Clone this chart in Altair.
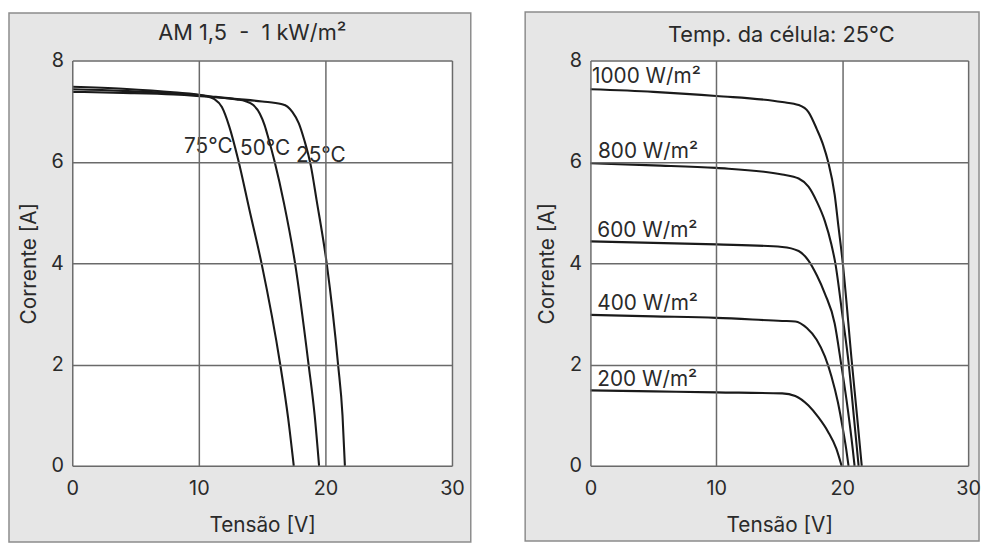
import altair as alt
import pandas as pd

FONT = "Inter"
INK = "#1a1a1a"
TXT = "#2a2a2a"
GRID = "#6a6a6a"

# ---------------- Left panel: temperature curves (AM 1,5 - 1 kW/m2) ----------------
temp_names = ["25°C", "50°C", "75°C"]
t25_v = [0, 4, 8, 12, 15, 16.5, 17.0, 17.4, 17.9, 18.33, 18.85, 19.3, 20.1, 21.0, 21.35, 21.54]
t25_i = [7.38, 7.36, 7.33, 7.26, 7.19, 7.14, 7.09, 6.98, 6.76, 6.43, 5.92, 5.25, 4.0, 2.0, 1.0, 0]
t50_v = [0, 4, 8, 11, 13, 13.65, 14.3, 14.82, 15.2, 15.47, 15.99, 16.72, 17.6, 18.67, 19.15, 19.5]
t50_i = [7.43, 7.40, 7.35, 7.29, 7.23, 7.20, 7.12, 6.95, 6.72, 6.49, 6.0, 5.19, 4.0, 2.0, 1.0, 0]
t75_v = [0, 4, 8, 10.5, 11.2, 11.82, 12.4, 13.1, 14.0, 14.95, 16.43, 17.05, 17.5]
t75_i = [7.48, 7.44, 7.37, 7.30, 7.24, 7.08, 6.70, 6.05, 5.05, 4.0, 2.0, 0.95, 0]

temp_label_text = ["75°C", "50°C", "25°C"]
temp_label_v = [8.83, 13.26, 17.68]
temp_label_i = [6.18, 6.13, 6.0]

# ---------------- Right panel: irradiance curves (25 °C) ----------------
irr_names = ["1000", "800", "600", "400", "200"]
g1000_v = [0, 5, 10, 15.23, 16.54, 17.32, 17.97, 18.49, 18.88, 19.4, 19.71, 20.0, 20.78, 21.17, 21.55]
g1000_i = [7.43, 7.38, 7.30, 7.18, 7.12, 6.98, 6.65, 6.33, 6.0, 5.35, 4.70, 4.1, 2.0, 1.0, 0]
g800_v = [0, 5, 10, 15.23, 16.54, 17.32, 17.97, 18.62, 19.14, 19.45, 20.0, 20.52, 20.95, 21.3]
g800_i = [5.97, 5.93, 5.88, 5.75, 5.67, 5.51, 5.22, 4.83, 4.37, 4.0, 3.0, 2.0, 0.9, 0]
g600_v = [0, 5, 10, 15.23, 16.54, 17.32, 18.0, 18.62, 19.4, 19.92, 20.44, 20.83, 20.98]
g600_i = [4.43, 4.40, 4.37, 4.32, 4.24, 4.05, 3.75, 3.40, 2.81, 2.0, 1.12, 0.34, 0]
g400_v = [0, 5, 10, 15.23, 16.27, 17.19, 17.97, 18.62, 19.14, 19.66, 20.05, 20.31, 20.5]
g400_i = [2.98, 2.95, 2.92, 2.86, 2.85, 2.72, 2.49, 2.16, 1.77, 1.25, 0.73, 0.34, 0]
g200_v = [0, 5, 10, 15.23, 16.27, 17.32, 18.1, 18.88, 19.53, 19.95]
g200_i = [1.49, 1.47, 1.45, 1.43, 1.38, 1.19, 0.96, 0.67, 0.34, 0]

irr_label_text = ["1000 W/m²", "800 W/m²", "600 W/m²", "400 W/m²", "200 W/m²"]
irr_label_v = [0.13, 0.6, 0.55, 0.55, 0.55]
irr_label_i = [7.55, 6.07, 4.52, 3.08, 1.58]

x_ticks = [0, 10, 20, 30]
y_ticks = [0, 2, 4, 6, 8]

NB = "\u00a0"
left_title = "AM 1,5" + NB * 2 + "-" + NB * 2 + "1 kW/m²"
right_title = "Temp. da célula: 25°C"


def curves_frame(names, vs, is_):
    rows = []
    for n, v, i in zip(names, vs, is_):
        for k, (a, b) in enumerate(zip(v, i)):
            rows.append({"serie": n, "V": a, "I": b, "ord": k})
    return pd.DataFrame(rows)


left_curves = curves_frame(temp_names, [t25_v, t50_v, t75_v], [t25_i, t50_i, t75_i])
right_curves = curves_frame(irr_names, [g1000_v, g800_v, g600_v, g400_v, g200_v],
                            [g1000_i, g800_i, g600_i, g400_i, g200_i])
left_labels = pd.DataFrame({"label": temp_label_text, "V": temp_label_v, "I": temp_label_i})
right_labels = pd.DataFrame({"label": irr_label_text, "V": irr_label_v, "I": irr_label_i})


def make_axes():
    common = dict(grid=True, gridColor=GRID, gridWidth=1.5, gridOpacity=1, ticks=False,
                  tickSize=0, domain=False, labelFlush=False, zindex=1, labelFont=FONT,
                  labelFontSize=20, labelColor=TXT, titleFont=FONT, titleFontSize=21,
                  titleFontWeight="normal", titleColor=TXT)
    xa = alt.Axis(values=x_ticks, title="Tensão [V]", labelPadding=13, titlePadding=16, **common)
    ya = alt.Axis(values=y_ticks, title="Corrente [A]", labelPadding=9, titlePadding=11, **common)
    return xa, ya


def panel(curves, labels, title_text, title_x, title_y, W, H, box):
    bx0, bx1, by0, by1 = box
    one = pd.DataFrame({"k": [0]})
    xa, ya = make_axes()
    X = alt.X("V:Q", scale=alt.Scale(domain=[0, 30], nice=False, zero=False), axis=xa)
    Y = alt.Y("I:Q", scale=alt.Scale(domain=[0, 8], nice=False, zero=False), axis=ya)

    bg = alt.Chart(one).mark_rect(fill="#e6e6e6", stroke="#8c8c8c", strokeWidth=1.5).encode(
        x=alt.value(bx0), x2=alt.value(bx1), y=alt.value(by0), y2=alt.value(by1))
    plot_bg = alt.Chart(one).mark_rect(fill="white").encode(
        x=alt.value(0), x2=alt.value(W), y=alt.value(0), y2=alt.value(H))
    lines = alt.Chart(curves).mark_line(color=INK, strokeWidth=2.1, interpolate="monotone").encode(
        x=X, y=Y, detail="serie:N", order="ord:Q")
    texts = alt.Chart(labels).mark_text(align="left", baseline="alphabetic", font=FONT,
                                        fontSize=21, color=TXT).encode(x=X, y=Y, text="label:N")
    title = alt.Chart(one).mark_text(font=FONT, fontSize=22, color=TXT, align="center",
                                     baseline="middle").encode(
        x=alt.value(title_x), y=alt.value(title_y), text=alt.value(title_text))
    return alt.layer(bg, plot_bg, lines, texts, title).properties(width=W, height=H)


left = panel(left_curves, left_labels, left_title, 182, -28, 384, 410,
             (-64, 403, -48, 487))
right = panel(right_curves, right_labels, right_title, 193, -26, 382, 410,
              (-66, 393, -49, 486))

chart = alt.hconcat(left, right, spacing=53, padding=0, background="white").configure_view(
    stroke=None)

chart.save("out.html", embed_options={"renderer": "svg", "actions": False})
